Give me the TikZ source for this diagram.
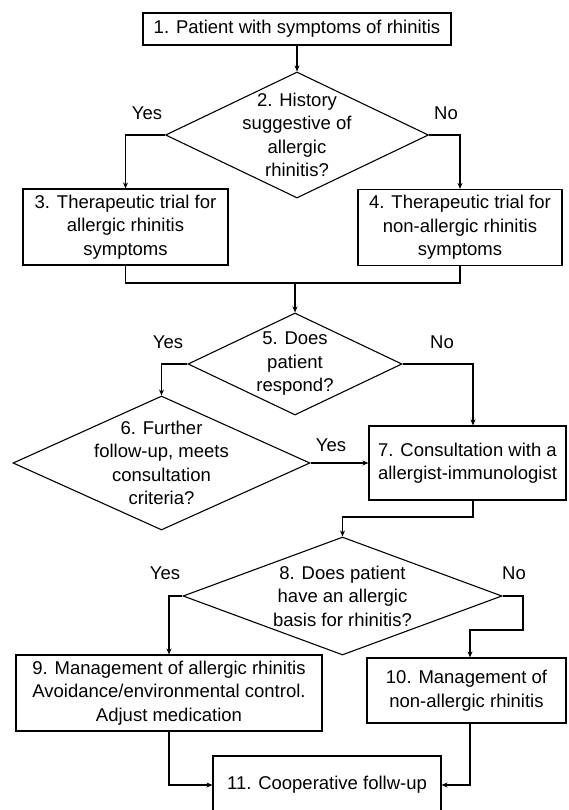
\documentclass[tikz,border=0pt]{standalone}
\usepackage{fontspec}
\setmainfont{Liberation Sans}
\usetikzlibrary{shapes.geometric,arrows.meta}

\begin{document}
\begin{tikzpicture}[
    x=1pt, y=-1pt, line width=1.1pt,
    font=\fontsize{18.5}{23.5}\selectfont,
    box/.style={rectangle, draw, align=center, inner sep=0pt},
    decision/.style={diamond, draw, inner sep=0pt},
    txt/.style={align=center, inner sep=0pt},
    arr/.style={-{Stealth[length=6pt,width=5pt]}}
]
\clip (0,0) rectangle (568,810);

% Caselle
\node[box, minimum width=308, minimum height=32] (n1) at (297,29) {1. Patient with symptoms of rhinitis};
\node[box, minimum width=205, minimum height=76] (n3) at (125.5,227) {3. Therapeutic trial for\\allergic rhinitis\\symptoms};
\node[box, minimum width=204, minimum height=76] (n4) at (460,227.5) {4. Therapeutic trial for\\non-allergic rhinitis\\symptoms};
\node[box, minimum width=197, minimum height=74] (n7) at (467.5,463) {7. Consultation with a\\allergist-immunologist};
\node[box, minimum width=306, minimum height=76] (n9) at (169,693) {9. Management of allergic rhinitis\\Avoidance/environmental control.\\Adjust medication};
\node[box, minimum width=199, minimum height=65] (n10) at (466.5,690.5) {10. Management of\\non-allergic rhinitis};
\node[box, minimum width=228, minimum height=58] (n11) at (327,785) {11. Cooperative follw-up};

% Rombi
\node[decision, minimum width=263, minimum height=126] (q2) at (297,135) {};
\node[txt] (t2) at (q2) {2. History\\suggestive of\\allergic\\rhinitis?};
\node[decision, minimum width=214, minimum height=102] (q5) at (295,364) {};
\node[txt] (t5) at (q5) {5. Does\\patient\\respond?};
\node[decision, minimum width=297, minimum height=134] (q6) at (161.5,463) {};
\node[txt] (t6) at (q6) {6. Further\\follow-up, meets\\consultation\\criteria?};
\node[decision, minimum width=319, minimum height=118] (q8) at (342.5,596) {};
\node[txt] (t8) at (q8) {8. Does patient\\have an allergic\\basis for rhinitis?};

% Si / No
\node[txt] (y2) at (147,113) {Yes};
\node[txt] (o2) at (446,113) {No};
\node[txt] (y5) at (168,342) {Yes};
\node[txt] (o5) at (442,342) {No};
\node[txt] (y6) at (331,445) {Yes};
\node[txt] (y8) at (165,573) {Yes};
\node[txt] (o8) at (514,573) {No};

\coordinate (m1) at (295,283);
\coordinate (m2) at (342.5,517);
\coordinate (m3) at (523,630);

% Frecce
\draw[arr] (n1) -- (q2);
\draw[arr] (q2.west) -| (n3.north);
\draw[arr] (q2.east) -| (n4.north);
\draw (n3.south) |- (m1) -| (n4.south);
\draw[arr] (m1) -- (q5.north);
\draw[arr] (q5.west) -| (q6.north);
\draw[arr] (q5.east) -| ([xshift=5.5pt]n7.north);
\draw[arr] (q6.east) -- (n7.west);
\draw[arr] ([xshift=5.5pt]n7.south) |- (m2) -- (q8.north);
\draw[arr] (q8.west) -| (n9.north);
\draw[arr] (q8.east) -| (m3) -| ([xshift=3.5pt]n10.north);
\draw[arr] (n9.south) |- (n11.west);
\draw[arr] ([xshift=3.5pt]n10.south) |- (n11.east);
\end{tikzpicture}
\end{document}
